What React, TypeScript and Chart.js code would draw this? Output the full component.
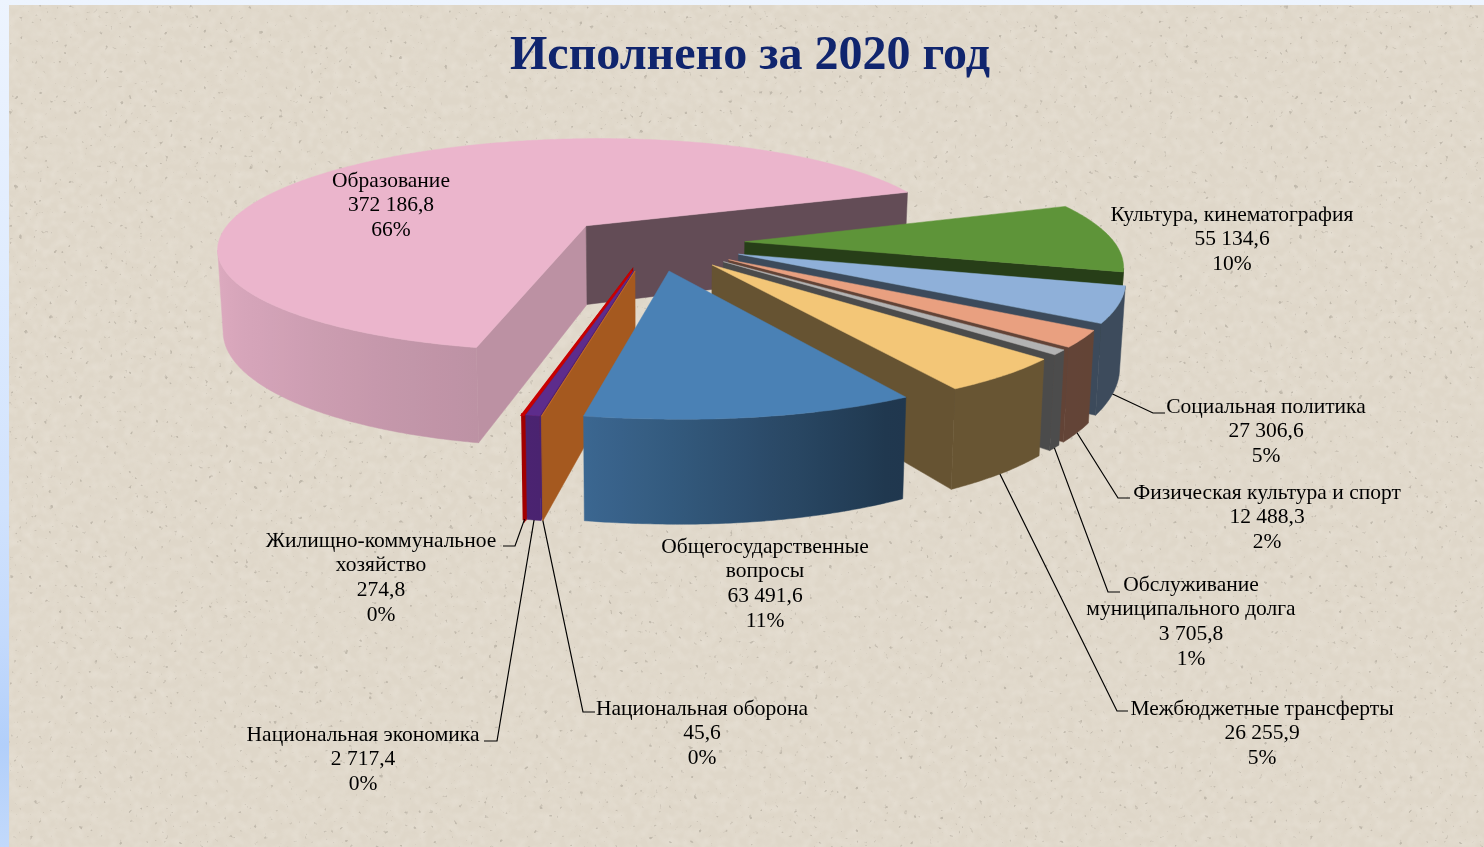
import React, { useEffect, useRef } from "react";
import { Chart, registerables } from "chart.js";

Chart.register(...registerables);

const categories = [
  "Образование",
  "Культура, кинематография",
  "Социальная политика",
  "Физическая культура и спорт",
  "Обслуживание муниципального долга",
  "Межбюджетные трансферты",
  "Общегосударственные вопросы",
  "Национальная оборона",
  "Национальная экономика",
  "Жилищно-коммунальное хозяйство",
];
const values = [372186.8, 55134.6, 27306.6, 12488.3, 3705.8, 26255.9, 63491.6, 45.6, 2717.4, 274.8];
const sliceColors = ["#EBB5CC", "#5E9439", "#8FB0D9", "#E9A080", "#B3B3B3", "#F3C677", "#4A81B5", "#CE6F27", "#5D2C8C", "#C80000"];
const labelLines = [
  ["Образование"],
  ["Культура, кинематография"],
  ["Социальная политика"],
  ["Физическая культура и спорт"],
  ["Обслуживание", "муниципального долга"],
  ["Межбюджетные трансферты"],
  ["Общегосударственные", "вопросы"],
  ["Национальная оборона"],
  ["Национальная экономика"],
  ["Жилищно-коммунальное", "хозяйство"],
];
const titleText = "Исполнено за 2020 год";

// layout only: label centre and first line y, then leader elbow and end
const labelX = [391, 1232, 1266, 1267, 1191, 1262, 765, 702, 363, 381];
const labelY = [181, 215, 407, 493, 585, 709, 547, 709, 735, 541];
const leaderPaths: (number[] | null)[] = [null, null, [1153, 413, 1165, 413], [1118, 498, 1130, 498], [1108, 592, 1120, 592], [1117, 711, 1128, 711], null, [583, 712, 595, 712], [497, 741, 484, 741], [515, 546, 503, 546]];

const ROTATION = 192;
const EXPLODE = 92;
const RADIUS = 370;
const CENTER_X = 653;
const CENTER_Y = 243;
const TILT = 0.2946;
const PERSPECTIVE = 2014;
const SHEAR = 0.012;
const SAG = 0.008;
const WALL_LEAN = 0.0125;
const DEPTH = 81;
const SHADE_A = 0.8;
const SHADE_B = 0.42;
const SHADE_TABLE = [[90, 0.42], [152, 0.43], [170, 0.6], [190, 0.8], [230, 0.9], [270, 0.97], [300, 0.97]];

const project = (gx: number, gy: number, down = 0) => {
  const s = 1 / (1 - gy / PERSPECTIVE);
  const lean = -gx * WALL_LEAN * (down / DEPTH);
  const side = Math.min(1, Math.max(0, gx / 300));
  const front = Math.max(0, gy);
  return {
    x: CENTER_X + (gx - SHEAR * gy * (1 - 0.7 * side) + lean) * s,
    y: CENTER_Y + (gy * TILT + SAG * front * side) * s + down * s,
  };
};

const shadeAt = (theta: number) => {
  for (let i = 1; i < SHADE_TABLE.length; i++) {
    const [t0, v0] = SHADE_TABLE[i - 1];
    const [t1, v1] = SHADE_TABLE[i];
    if (theta <= t1) return v0 + ((v1 - v0) * Math.max(0, theta - t0)) / (t1 - t0);
  }
  return 0.97;
};

const tint = (hex: string, k: number) => {
  const n = parseInt(hex.slice(1), 16);
  return `rgb(${Math.round(((n >> 16) & 255) * k)},${Math.round(((n >> 8) & 255) * k)},${Math.round((n & 255) * k)})`;
};

const formatValue = (v: number) => {
  const [whole, frac] = v.toFixed(1).split(".");
  return `${whole.replace(/\B(?=(\d{3})+$)/g, " ")},${frac}`;
};

// back to front; slices left of the front line sit behind those right of it
const depthKey = (mid: number) => Math.sin(mid) - (Math.cos(mid) < 0 ? 0.05 : 0);

const pie3d = {
  id: "pie3d",
  beforeDatasetsDraw(chart: any) {
    const ctx = chart.ctx as CanvasRenderingContext2D;
    const arcs = chart.getDatasetMeta(0).data.map((arc: any, i: number) => {
      const p = arc.getProps(["startAngle", "endAngle", "outerRadius"], true);
      return { i, a: p.startAngle, b: p.endAngle, mid: (p.startAngle + p.endAngle) / 2, off: arc.options.offset, lw: arc.options.borderWidth };
    });
    const sorted = [...arcs].sort((p: any, q: any) => depthKey(p.mid) - depthKey(q.mid));
    sorted.forEach((s: any) => {
      const base = sliceColors[s.i];
      const ax = s.off * Math.cos(s.mid);
      const ay = s.off * Math.sin(s.mid);
      const rim = (ang: number, down = 0) => project(ax + RADIUS * Math.cos(ang), ay + RADIUS * Math.sin(ang), down);
      const apex = (down = 0) => project(ax, ay, down);
      const fill = (pts: { x: number; y: number }[], color: any, lw: number) => {
        ctx.beginPath();
        pts.forEach((p, k) => (k ? ctx.lineTo(p.x, p.y) : ctx.moveTo(p.x, p.y)));
        ctx.closePath();
        ctx.fillStyle = color;
        ctx.strokeStyle = color;
        ctx.lineWidth = lw;
        ctx.fill();
        ctx.stroke();
      };
      // radial faces
      if (Math.sin(s.a - Math.PI / 2) > 0) fill([apex(), rim(s.a), rim(s.a, DEPTH), apex(DEPTH)], tint(base, SHADE_A), s.lw);
      if (Math.sin(s.b + Math.PI / 2) > 0) fill([apex(), rim(s.b), rim(s.b, DEPTH), apex(DEPTH)], tint(base, SHADE_B), s.lw);
      // outer wall: the part of the rim whose projected x falls as the angle grows faces the viewer
      const step = Math.PI / 360;
      const samples: number[] = [];
      for (let t = s.a; t < s.b; t += step) samples.push(t);
      samples.push(s.b);
      const front = samples.filter((t) => rim(t + 0.001).x < rim(t).x);
      if (front.length > 1) {
        const x0 = rim(front[0]).x;
        const x1 = rim(front[front.length - 1]).x;
        const grad = ctx.createLinearGradient(x0, 0, x1, 0);
        front.forEach((t, k) => {
          if (k % 6 && k !== front.length - 1) return;
          const theta = (((t * 180) / Math.PI + 90) % 360 + 360) % 360;
          grad.addColorStop(Math.min(1, Math.max(0, (x0 - rim(t).x) / Math.max(x0 - x1, 0.001))), tint(base, shadeAt(theta)));
        });
        fill([...front.map((t) => rim(t)), ...[...front].reverse().map((t) => rim(t, DEPTH))], grad, s.lw);
      }
      // top
      fill([apex(), ...samples.map((t) => rim(t))], base, s.lw);
    });
    return false;
  },
  afterDraw(chart: any) {
    const ctx = chart.ctx as CanvasRenderingContext2D;
    const total = values.reduce((p, q) => p + q, 0);
    const meta = chart.getDatasetMeta(0).data;
    // leaders
    ctx.strokeStyle = "#000";
    ctx.lineWidth = 1.2;
    leaderPaths.forEach((path, i) => {
      if (!path) return;
      const arc = meta[i];
      const p = arc.getProps(["startAngle", "endAngle"], true);
      const mid = (p.startAngle + p.endAngle) / 2;
      const off = arc.options.offset;
      const end = project((off + RADIUS) * Math.cos(mid), (off + RADIUS) * Math.sin(mid), DEPTH);
      ctx.beginPath();
      ctx.moveTo(end.x, end.y);
      ctx.lineTo(path[0], path[1]);
      ctx.lineTo(path[2], path[3]);
      ctx.stroke();
    });
    // labels
    ctx.fillStyle = "#000";
    ctx.font = '21.5px "Liberation Serif"';
    ctx.textAlign = "center";
    ctx.textBaseline = "middle";
    labelLines.forEach((lines, i) => {
      const all = [...lines, formatValue(values[i]), `${Math.round((values[i] / total) * 100)}%`];
      all.forEach((line, k) => ctx.fillText(line, labelX[i], labelY[i] + k * 24.8));
    });
    // title
    ctx.fillStyle = "#10256E";
    ctx.font = 'bold 48px "Liberation Serif"';
    ctx.fillText(titleText, 750, 57);
  },
};

const noiseSvg = `<svg xmlns="http://www.w3.org/2000/svg" width="1484" height="847">
<filter id="a" x="0" y="0" width="100%" height="100%"><feTurbulence type="fractalNoise" baseFrequency="0.12" numOctaves="3" seed="7"/><feGaussianBlur stdDeviation="0.8"/><feColorMatrix values="0 0 0 0 0.95 0 0 0 0 0.92 0 0 0 0 0.87 1.6 0 0 0 -0.6"/></filter>
<filter id="b" x="0" y="0" width="100%" height="100%"><feTurbulence type="fractalNoise" baseFrequency="0.2" numOctaves="2" seed="21"/><feGaussianBlur stdDeviation="0.7"/><feColorMatrix values="0 0 0 0 0.42 0 0 0 0 0.38 0 0 0 0 0.32 9 0 0 0 -6.4"/></filter>
<rect width="1484" height="847" filter="url(#a)" opacity="0.3"/><rect width="1484" height="847" filter="url(#b)" opacity="0.6"/></svg>`;

export default function App() {
  const ref = useRef<HTMLCanvasElement>(null);
  useEffect(() => {
    const chart = new Chart(ref.current!, {
      type: "pie",
      data: {
        labels: categories,
        datasets: [
          {
            data: values,
            backgroundColor: sliceColors,
            offset: EXPLODE,
            borderWidth: [0.5, 0.5, 0.5, 0.5, 0.5, 0.5, 0.5, 0.5, 0.5, 2.5],
          },
        ],
      },
      options: {
        responsive: false,
        animation: false,
        rotation: ROTATION,
        plugins: { legend: { display: false }, tooltip: { enabled: false }, title: { display: false } },
      },
      plugins: [pie3d],
    } as any);
    return () => chart.destroy();
  }, []);
  return (
    <div style={{ position: "absolute", left: 0, top: 0, width: 1484, height: 847, overflow: "hidden", background: "linear-gradient(180deg,#EDF4FE 0%,#E0ECFE 30%,#D0E2FD 60%,#C4DAFC 75%,#B2CFFA 88%,#C2D9FB 100%)" }}>
      <div
        style={{
          position: "absolute",
          left: 9,
          top: 5,
          right: 0,
          bottom: 0,
          backgroundColor: "#DFD7C9",
          backgroundImage: `url("data:image/svg+xml,${encodeURIComponent(noiseSvg)}")`,
        }}
      />
      <canvas ref={ref} width={1484} height={847} style={{ position: "absolute", left: 0, top: 0, display: "block" }} />
    </div>
  );
}
